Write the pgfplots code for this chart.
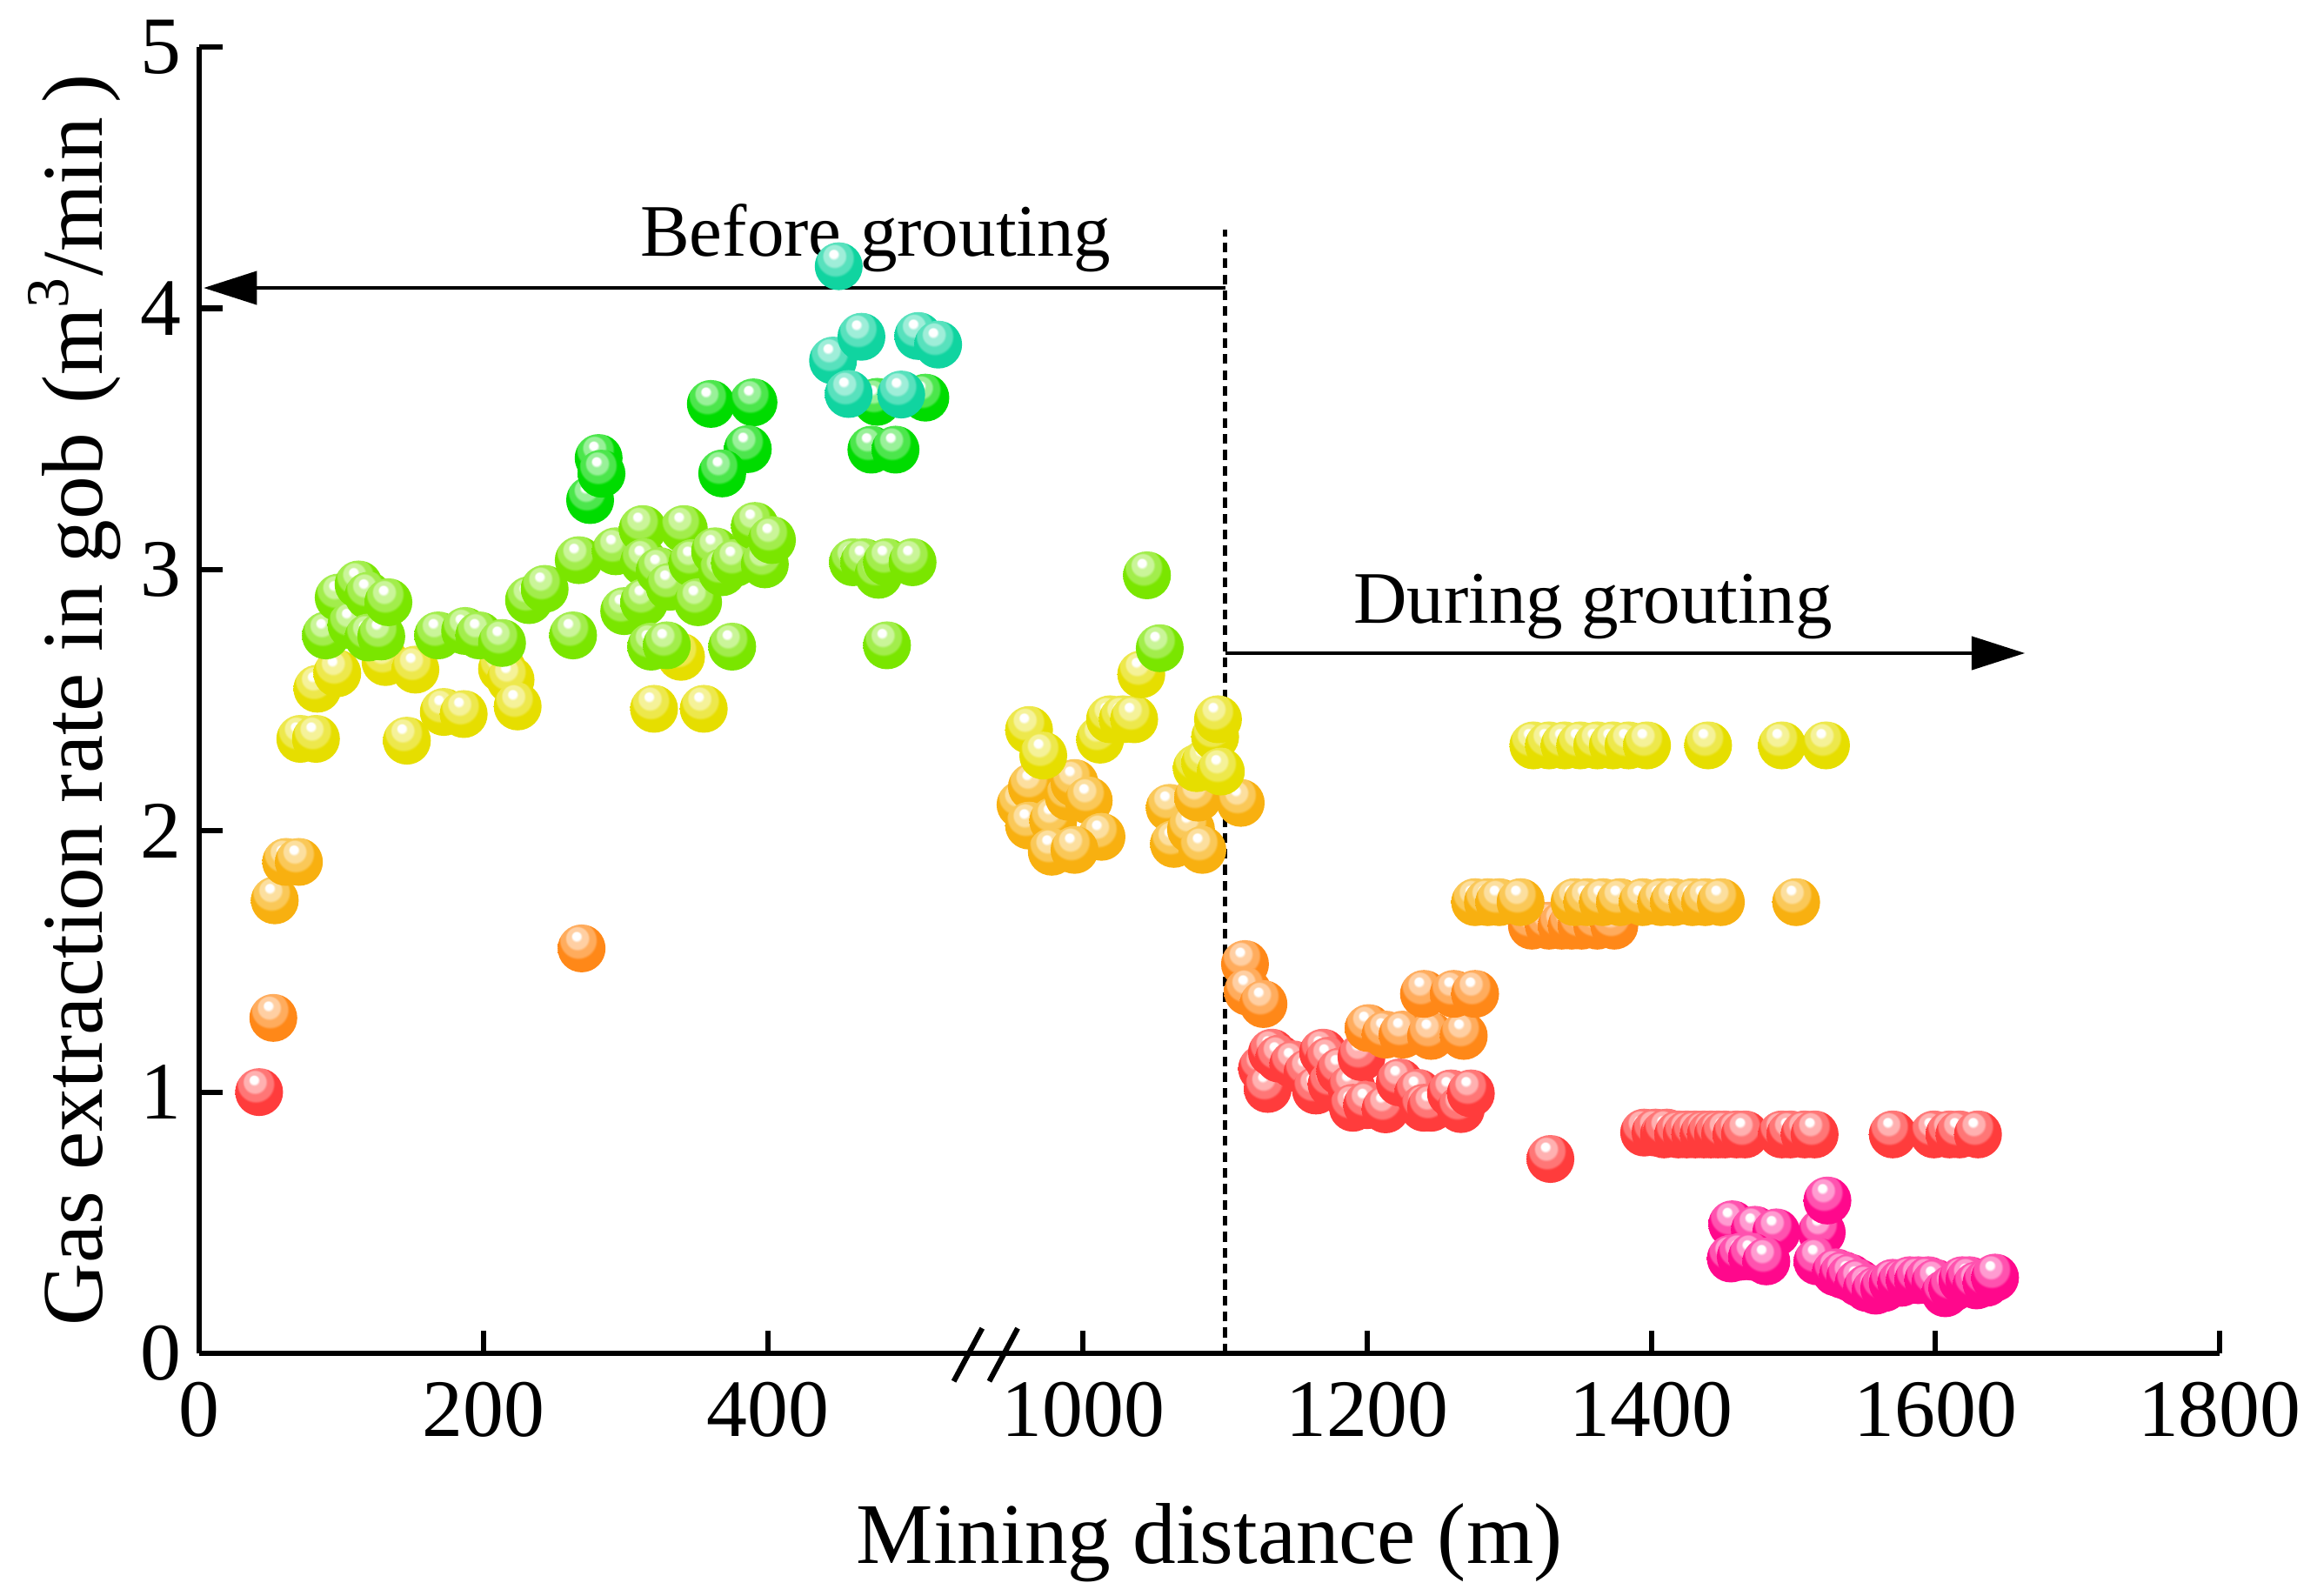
\documentclass[border=0pt]{standalone}
\usepackage{fontspec}
\setmainfont{Liberation Serif}
\usepackage{pgfplots}
\pgfplotsset{compat=1.18}
\usetikzlibrary{arrows.meta}

\newcommand\defball[2]{%
  \definecolor{c#1}{HTML}{#2}%
  \pgfdeclareradialshading{sh#1}{\pgfpoint{-6bp}{14bp}}{%
    color(0bp)=(white); color(4bp)=(white);
    color(6bp)=(c#1!40!white); color(11bp)=(c#1!40!white);
    color(13bp)=(c#1!70!white); color(18bp)=(c#1!70!white);
    color(20bp)=(c#1); color(50bp)=(c#1)}%
  \pgfdeclareplotmark{ball#1}{%
    \pgfpathcircle{\pgfpointorigin}{\pgfplotmarksize}%
    \pgfshadepath{sh#1}{0}%
    \pgfusepath{}}%
}
\defball{mag}{FF088C}
\defball{red}{FF3C3C}
\defball{ora}{FF8818}
\defball{amb}{F8B010}
\defball{yel}{E6DE00}
\defball{ygr}{7AE600}
\defball{grn}{00DC00}
\defball{tea}{10D4A0}

\begin{document}
\begin{tikzpicture}
\begin{axis}[
  width=455.7pt, height=294.7pt, scale only axis,
  clip=false,
  x coord trafo/.code={\pgfmathparse{#1>700 ? #1-378 : #1}},
  xmin=0, xmax=1800, ymin=0, ymax=5,
  axis lines=left,
  axis line style={-, line width=1.2pt},
  tick style={line width=1.2pt, black},
  major tick length=5.2pt,
  tick align=inside,
  xtick={0,200,400,1000,1200,1400,1600,1800},
  xticklabels={0,200,400,1000,1200,1400,1600,1800},
  ytick={0,1,2,3,4,5},
  /pgf/number format/assume math mode=true,
  ticklabel style={font=\fontsize{18.4}{20}\selectfont},
  xticklabel style={yshift=-3pt},
  yticklabel style={inner xsep=1pt, xshift=-3pt},
  xlabel={Mining distance (m)},
  ylabel={Gas extraction rate in gob\,\,(m\textsuperscript{3}/min\,)},
  label style={font=\fontsize{19.5}{22}\selectfont},
  xlabel style={at={(axis description cs:0.5,-0.1605)}, anchor=base},
  ylabel style={at={(axis description cs:-0.0483,0.5)}, anchor=base, inner sep=0pt},
  only marks, mark size=5.4pt,
]
% magenta
\addplot[mark=ballmag] table {
1457 0.494
1473 0.473
1488 0.463
1520 0.463
1524 0.585
1456 0.363
1463 0.37
1471 0.37
1481 0.352
1517 0.352
1530 0.31
1535 0.30
1540 0.29
1546 0.27
1552 0.25
1558 0.24
1564 0.25
1570 0.27
1576 0.27
1582 0.28
1588 0.28
1595 0.28
1600 0.27
1607 0.23
1612 0.25
1619 0.28
1624 0.28
1629 0.26
1636 0.27
1642 0.29
};
% red
\addplot[mark=ballred] table {
42 1.00
1126 1.09
1130 1.012
1133 1.151
1138 1.128
1148 1.106
1158 1.073
1164 1.006
1169 1.151
1173 1.12
1175 1.03
1181 1.079
1189 1.015
1190 0.94
1196 1.134
1200 0.95
1213 0.934
1223 1.037
1236 0.997
1240 0.94
1245 0.94
1259 0.995
1266 0.935
1273 0.995
1329 0.744
1395 0.845
1403 0.845
1409 0.838
1411 0.845
1419 0.838
1425 0.838
1431 0.838
1437 0.838
1442 0.838
1447 0.838
1452 0.838
1460 0.838
1466 0.838
1492 0.838
1498 0.838
1508 0.838
1515 0.838
1570 0.838
1599 0.838
1610 0.838
1617 0.838
1630 0.838
};
% orange
\addplot[mark=ballora] table {
52 1.284
269 1.55
1114 1.49
1116 1.384
1127 1.337
1201 1.245
1213 1.22
1225 1.22
1245 1.215
1268 1.215
1240 1.376
1261 1.376
1276 1.376
1316 1.637
1328 1.637
1337 1.637
1344 1.637
1351 1.637
1362 1.637
1374 1.637
};
% amber
\addplot[mark=ballamb] table {
53 1.734
61 1.881
70 1.881
956 2.10
964 2.168
962 2.02
979 2.038
978 1.92
990 2.13
994 2.183
1004 2.116
1013 1.977
994 1.927
1061 2.088
1064 1.95
1076 2.005
1081 2.127
1084 1.927
1111 2.107
1276 1.727
1285 1.727
1293 1.727
1308 1.727
1346 1.727
1355 1.727
1366 1.727
1378 1.727
1394 1.727
1407 1.727
1416 1.727
1429 1.727
1438 1.727
1449 1.727
1502 1.727
};
% yellow
\addplot[mark=ballyel] table {
71 2.352
82 2.352
83 2.544
97 2.603
131 2.646
152 2.617
146 2.345
172 2.455
186 2.447
213 2.62
219 2.578
224 2.476
320 2.467
339 2.666
355 2.467
962 2.386
972 2.288
1012 2.349
1019 2.427
1028 2.427
1036 2.427
1041 2.599
1080 2.24
1086 2.26
1093 2.36
1095 2.427
1097 2.227
1317 2.327
1328 2.327
1339 2.327
1350 2.327
1362 2.327
1373 2.327
1384 2.327
1397 2.327
1440 2.327
1492 2.327
1523 2.327
};
% yellow-green
\addplot[mark=ballygr] table {
89 2.748
98 2.893
107 2.787
112 2.943
119 2.90
119 2.74
128 2.744
133 2.875
168 2.748
187 2.765
197 2.748
213 2.719
232 2.883
243 2.926
263 2.748
267 3.036
293 3.07
299 2.841
312 3.155
313 3.028
313 2.875
318 2.705
324 2.994
329 2.71
331 2.934
341 3.155
347 3.025
351 2.875
363 3.07
368 2.99
375 2.705
377 3.025
391 3.167
398 3.02
403 3.113
460 3.028
468 3.028
478 2.98
484 3.028
502 3.028
484 2.71
1045 2.978
1054 2.699
};
% green
\addplot[mark=ballgrn] table {
275 3.266
281 3.427
283 3.367
360 3.634
390 3.64
386 3.461
368 3.368
473 3.459
490 3.459
477 3.642
511 3.658
};
% teal
\addplot[mark=balltea] table {
446 3.80
450 4.161
457 3.672
466 3.891
494 3.67
506 3.894
520 3.861
};
% annotations
\draw[line width=0.9pt, dash pattern=on 2.2pt off 1.4pt] (axis cs:1100,0) -- (axis cs:1100,4.30);
\draw[line width=0.7pt, -{Triangle[length=12pt,width=7.5pt]}] (axis cs:1100,4.078) -- (axis cs:3,4.078);
\draw[line width=0.7pt, -{Triangle[length=12pt,width=7.5pt]}] (axis cs:1100,2.68) -- (axis cs:1663,2.68);
\node[anchor=base, font=\fontsize{16.7}{18}\selectfont] at (axis cs:476,4.20) {Before grouting};
\node[anchor=base, font=\fontsize{16.7}{18}\selectfont] at (axis cs:1359,2.795) {During grouting};
% axis break marks
\draw[line width=1.2pt] (axis cs:531,-0.107) -- (axis cs:551,0.096);
\draw[line width=1.2pt] (axis cs:556,-0.107) -- (axis cs:576,0.096);
\end{axis}
\pgfresetboundingbox
\path[use as bounding box] (-45pt,-54.7pt) rectangle (477.7pt,305.3pt);
\end{tikzpicture}
\end{document}
